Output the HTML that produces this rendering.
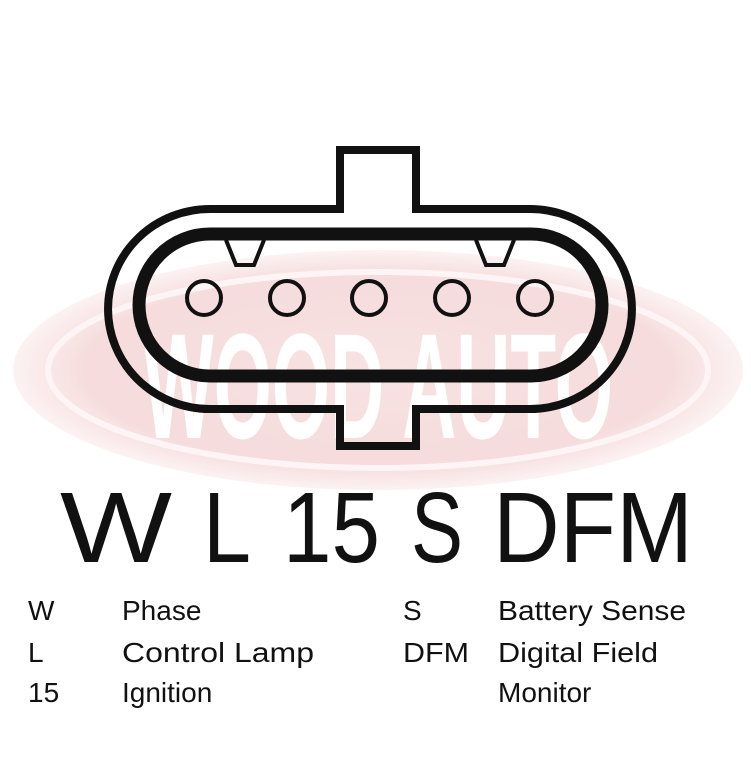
<!DOCTYPE html>
<html><head><meta charset="utf-8"><style>
html,body{margin:0;padding:0;background:#fff;}
svg{display:block}
text{font-family:"Liberation Sans",sans-serif;fill:#111;}
</style></head><body>
<svg width="751" height="759" viewBox="0 0 751 759" xmlns="http://www.w3.org/2000/svg">
<defs>
<radialGradient id="pg" cx="50%" cy="50%" r="50%">
<stop offset="0" stop-color="#f8e2e2"/>
<stop offset="0.8" stop-color="#f6dcdc"/>
<stop offset="1" stop-color="#fcf2f2"/>
</radialGradient>
</defs>
<rect width="751" height="759" fill="#fff"/>
<ellipse cx="378" cy="370" rx="365" ry="120" fill="url(#pg)"/>
<ellipse cx="378" cy="370" rx="330" ry="98" fill="none" stroke="#fdf5f5" stroke-width="6"/>
<text x="378" y="438" text-anchor="middle" font-size="150" font-weight="bold" textLength="470" lengthAdjust="spacingAndGlyphs" style="fill:#fff">WOOD AUTO</text>
<path d="M340 150 H416 V209 H530 A102 100 0 0 1 530 409 H416 V446 H340 V409 H210 A102 100 0 0 1 210 209 H340 Z" fill="none" stroke="#111" stroke-width="8"/>
<rect x="139" y="234" width="463" height="142" rx="71" ry="71" fill="none" stroke="#111" stroke-width="13"/>
<path d="M226 240 L236 265 H254 L264 240" fill="none" stroke="#111" stroke-width="4"/>
<path d="M476 240 L486 265 H504 L514 240" fill="none" stroke="#111" stroke-width="4"/>
<g fill="none" stroke="#111" stroke-width="4">
<circle cx="204" cy="298" r="17"/>
<circle cx="287" cy="298" r="17"/>
<circle cx="369" cy="298" r="17"/>
<circle cx="452" cy="298" r="17"/>
<circle cx="535" cy="298" r="17"/>
</g>
<g font-size="100">
<text x="60" y="562" textLength="112" lengthAdjust="spacingAndGlyphs">W</text>
<text x="203" y="562" textLength="48" lengthAdjust="spacingAndGlyphs">L</text>
<text x="283" y="562" textLength="97" lengthAdjust="spacingAndGlyphs">15</text>
<text x="411" y="562" textLength="52" lengthAdjust="spacingAndGlyphs">S</text>
<text x="493" y="562" textLength="200" lengthAdjust="spacingAndGlyphs">DFM</text>
</g>
<g font-size="28">
<text x="28" y="620">W</text><text x="122" y="620">Phase</text>
<text x="403" y="620">S</text><text x="498" y="620" textLength="188" lengthAdjust="spacingAndGlyphs">Battery Sense</text>
<text x="28" y="662">L</text><text x="122" y="662" textLength="192" lengthAdjust="spacingAndGlyphs">Control Lamp</text>
<text x="403" y="662" textLength="66" lengthAdjust="spacingAndGlyphs">DFM</text><text x="498" y="662" textLength="160" lengthAdjust="spacingAndGlyphs">Digital Field</text>
<text x="28" y="702">15</text><text x="122" y="702">Ignition</text>
<text x="498" y="702">Monitor</text>
</g>
</svg>
</body></html>
